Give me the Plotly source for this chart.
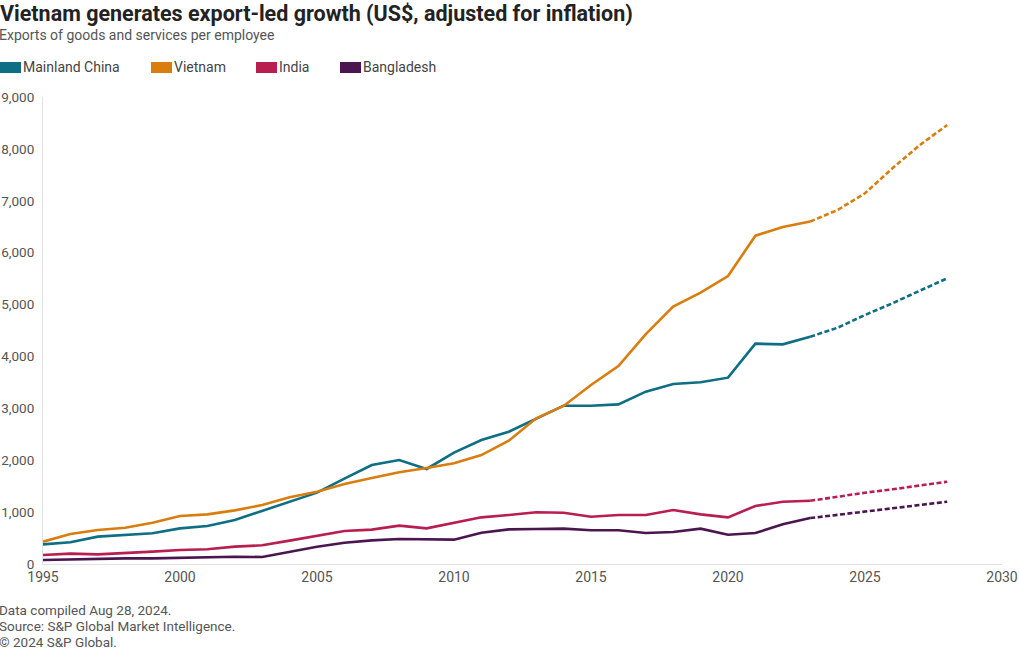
import plotly.graph_objects as go

years = list(range(1995, 2029))
forecast_start = 2023

series_names = ["Mainland China", "Vietnam", "India", "Bangladesh"]
colors = ["#0d6e84", "#d97d0e", "#b81e4f", "#4b1650"]

china = [379, 418, 527, 559, 591, 687, 732, 848, 1028, 1201, 1375, 1645, 1908, 2004, 1831,
         2146, 2390, 2550, 2808, 3051, 3051, 3077, 3321, 3469, 3502, 3591, 4246, 4233, 4380,
         4554, 4799, 5024, 5267, 5506]
vietnam = [430, 578, 655, 700, 796, 925, 957, 1034, 1137, 1285, 1394, 1542, 1657, 1767, 1850,
           1940, 2100, 2377, 2808, 3045, 3450, 3816, 4432, 4959, 5229, 5550, 6327, 6494, 6600,
           6822, 7144, 7626, 8074, 8460]
india = [173, 199, 186, 206, 238, 270, 283, 334, 360, 450, 546, 636, 662, 739, 687,
         796, 899, 944, 996, 989, 912, 944, 944, 1041, 957, 899, 1118, 1201, 1218,
         1297, 1374, 1439, 1509, 1586]
bangladesh = [77, 90, 103, 109, 109, 122, 135, 141, 135, 238, 334, 411, 456, 482, 482,
              469, 604, 668, 675, 681, 649, 649, 597, 617, 681, 565, 597, 765, 885,
              944, 1008, 1073, 1137, 1201]

values = [china, vietnam, india, bangladesh]

title_text = "Vietnam generates export-led growth (US$, adjusted for inflation)"
subtitle_text = "Exports of goods and services per employee"
footer_lines = ["Data compiled Aug 28, 2024.", "Source: S&P Global Market Intelligence.",
                "\u00a9 2024 S&P Global."]

FONT = "Roboto"
W, H = 1020, 650
L, R, T, B = 43, 18, 97, 86
pw, ph = W - L - R, H - T - B
PAD = 3  # annotation inner padding compensation

def px_x(px):
    return (px - L) / pw

def px_y(py):
    return (H - B - py) / ph

fig = go.Figure()

for name, col, vals in zip(series_names, colors, values):
    hx = [y for y in years if y <= forecast_start]
    hy = [v for y, v in zip(years, vals) if y <= forecast_start]
    fx = [y for y in years if y >= forecast_start]
    fy = [v for y, v in zip(years, vals) if y >= forecast_start]
    fig.add_trace(go.Scatter(x=hx, y=hy, mode="lines", name=name,
                             line=dict(color=col, width=2.6), showlegend=False))
    fig.add_trace(go.Scatter(x=fx, y=fy, mode="lines", name=name + " forecast",
                             line=dict(color=col, width=2.6, dash="5px,2.5px"),
                             showlegend=False))

# manual legend
legend_x = [0, 151, 256, 340]
shapes = []
annotations = []
for name, col, lx in zip(series_names, colors, legend_x):
    shapes.append(dict(type="rect", xref="paper", yref="paper",
                       x0=px_x(lx), x1=px_x(lx + 21), y0=px_y(73), y1=px_y(62),
                       fillcolor=col, line=dict(width=0)))
    annotations.append(dict(text=name, xref="paper", yref="paper",
                            x=px_x(lx + 24 - PAD), y=px_y(67.5), xanchor="left", yanchor="middle",
                            showarrow=False, font=dict(family=FONT, size=14, color="#444")))

annotations.append(dict(text=subtitle_text, xref="paper", yref="paper",
                        x=px_x(-PAD), y=px_y(35), xanchor="left", yanchor="middle",
                        showarrow=False, font=dict(family=FONT, size=14, color="#555")))

for i, line in enumerate(footer_lines):
    annotations.append(dict(text=line, xref="paper", yref="paper",
                            x=px_x(-PAD), y=px_y(610 + i * 16), xanchor="left", yanchor="middle",
                            showarrow=False, font=dict(family=FONT, size=13.5, color="#555")))

fig.update_layout(
    width=W, height=H,
    margin=dict(l=L, r=R, t=T, b=B, autoexpand=False),
    paper_bgcolor="white", plot_bgcolor="white",
    title=dict(text="<b>" + title_text + "</b>", x=0, xref="container", xanchor="left",
               y=1 - 13 / H, yref="container", yanchor="middle",
               font=dict(family=FONT, size=21.5, color="#222")),
    shapes=shapes, annotations=annotations,
    showlegend=False,
    xaxis=dict(range=[1995, 2030], dtick=5, tick0=1995, showgrid=False, zeroline=False,
               showline=True, linecolor="#e2e2e2", linewidth=1, ticks="", automargin=False,
               tickfont=dict(family=FONT, size=14, color="#555")),
    yaxis=dict(range=[0, 9000], dtick=1000, tickformat=",", showgrid=False, zeroline=False,
               showline=True, linecolor="#e2e2e2", linewidth=1, ticks="", automargin=False,
               ticklabelstandoff=5,
               tickfont=dict(family=FONT, size=13.5, color="#555")),
)

fig.write_html("out.html", config={"displayModeBar": False},
               post_script="document.body.style.margin='0';document.body.style.overflow='hidden';")
